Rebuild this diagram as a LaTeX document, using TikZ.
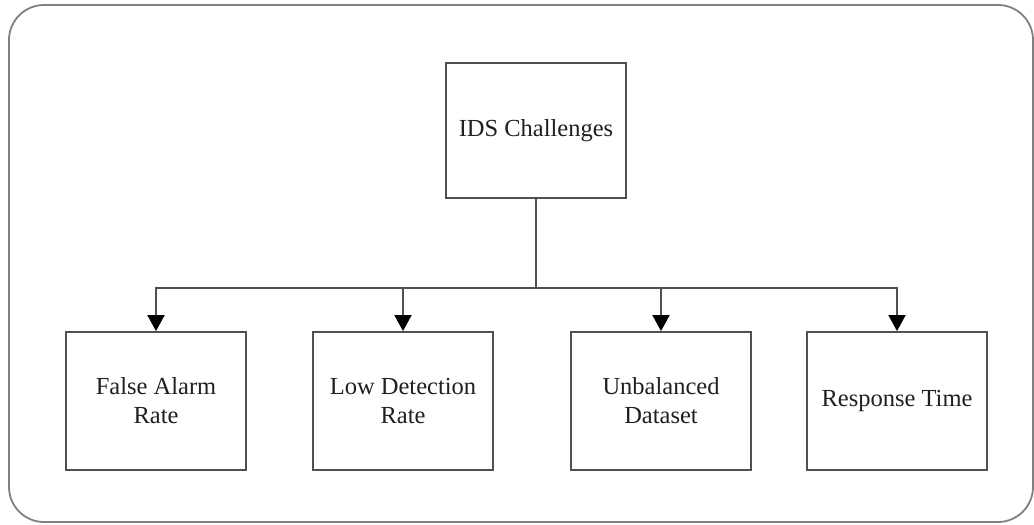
\documentclass[tikz,border=0pt]{standalone}
\usepackage{fontspec}
\setmainfont{Liberation Serif}
\usetikzlibrary{arrows.meta}
\definecolor{boxline}{HTML}{505050}
\definecolor{frameline}{HTML}{808080}
\definecolor{txt}{HTML}{202020}
\begin{document}
\begin{tikzpicture}[x=1pt,y=-1pt,
  box/.style={draw=boxline,line width=1.8pt,fill=white,minimum width=180pt,inner sep=0pt,
    align=center,text=txt,font=\fontsize{24.5}{29}\selectfont},
  conn/.style={draw=boxline,line width=1.8pt},
  arr/.style={conn,-{Triangle[width=17pt,length=16pt,color=black,fill=black]}}]
\useasboundingbox (0,0) rectangle (1034,525);
\draw[frameline,line width=1.8pt,rounded corners=35pt] (9,5) rectangle (1033,522);
\node[box,minimum height=135pt] (top) at (536,130.5) {IDS Challenges};
\node[box,minimum height=138pt] (b1) at (156,401) {False Alarm\\Rate};
\node[box,minimum height=138pt] (b2) at (403,401) {Low Detection\\Rate};
\node[box,minimum height=138pt] (b3) at (661,401) {Unbalanced\\Dataset};
\node[box,minimum height=138pt] (b4) at (897,401) {Response Time};
\coordinate (bus) at (536,288);
\draw[conn] (top.south) -- (bus);
\draw[arr] (bus) -| (b1.north);
\draw[arr] (bus) -| (b2.north);
\draw[arr] (bus) -| (b3.north);
\draw[arr] (bus) -| (b4.north);
\end{tikzpicture}
\end{document}
